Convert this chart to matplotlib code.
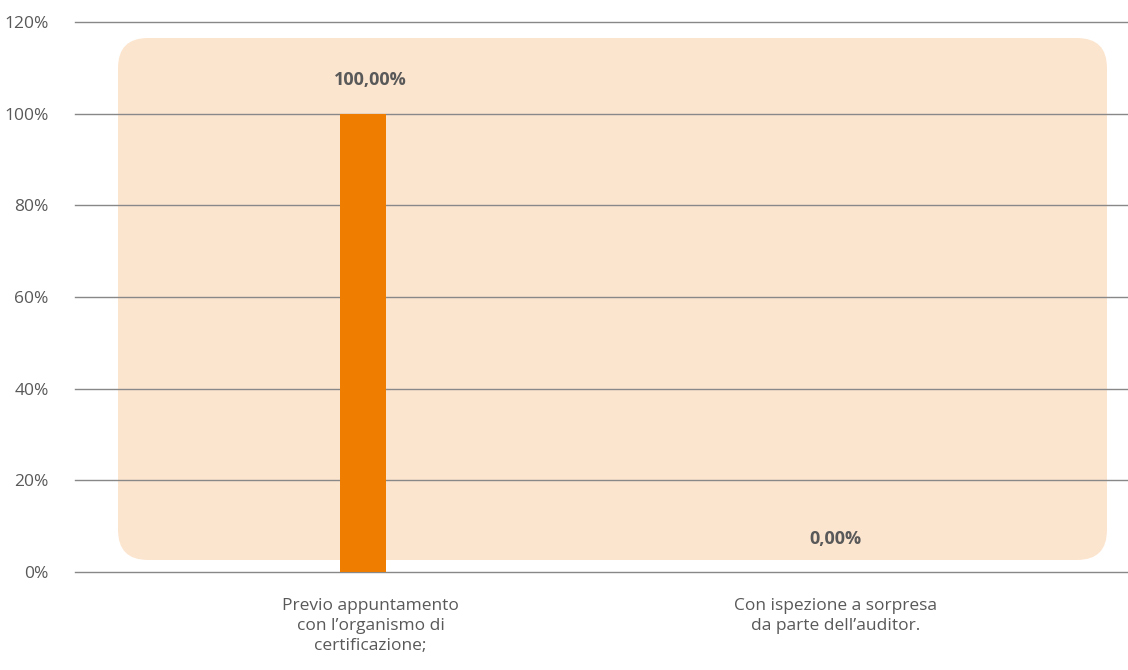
import matplotlib.pyplot as plt
from matplotlib.patches import FancyBboxPatch
from matplotlib.transforms import IdentityTransform
from matplotlib.ticker import FuncFormatter

categories = ["Previo appuntamento\ncon l\u2019organismo di\ncertificazione;",
              "Con ispezione a sorpresa\nda parte dell\u2019auditor."]
values = [100.0, 0.0]
y_ticks = [0, 20, 40, 60, 80, 100, 120]

plt.rcParams['font.family'] = ['Open Sans', 'DejaVu Sans']

fig = plt.figure(figsize=(11.28, 6.70), dpi=100)
ax = fig.add_axes([0.0665, 0.1463, 0.9335, 0.8207])

# soft rounded panel behind the bars (pixel coordinates)
panel = FancyBboxPatch((118, 110), 989, 522,
                       boxstyle="round,pad=0,rounding_size=30",
                       transform=IdentityTransform(),
                       facecolor="#fce5cf", edgecolor="none",
                       zorder=0, clip_on=False)
ax.add_patch(panel)

x = list(range(len(categories)))
shift = -0.017  # bar sits a touch left of the category centre
ax.bar([xi + shift for xi in x], values, width=0.099, color="#ee7d00", zorder=3)

for xi, v in zip(x, values):
    ax.annotate(f"{v:.2f}%".replace(".", ","), (xi, v),
                xytext=(0, 24), textcoords="offset points",
                ha="center", va="center", fontsize=13,
                fontweight="bold", color="#595959", zorder=4)

ax.set_xlim(-0.636, 1.629)
ax.set_ylim(0, 120)
ax.set_yticks(y_ticks)
ax.yaxis.set_major_formatter(FuncFormatter(lambda v, p: f"{v:.0f}%"))
ax.set_xticks(x, categories)
ax.tick_params(axis="both", length=0, labelsize=12.5, labelcolor="#595959")
ax.tick_params(axis="x", pad=19)
ax.tick_params(axis="y", pad=19)
for lbl in ax.get_xticklabels():
    lbl.set_linespacing(1.3)

ax.grid(axis="y", color="#888888", linewidth=1, zorder=4)
for gl in ax.get_ygridlines():
    gl.set_clip_on(False)
ax.set_axisbelow(False)
ax.patch.set_visible(False)
for s in ax.spines.values():
    s.set_visible(False)

fig.savefig("out.png", dpi=100)
